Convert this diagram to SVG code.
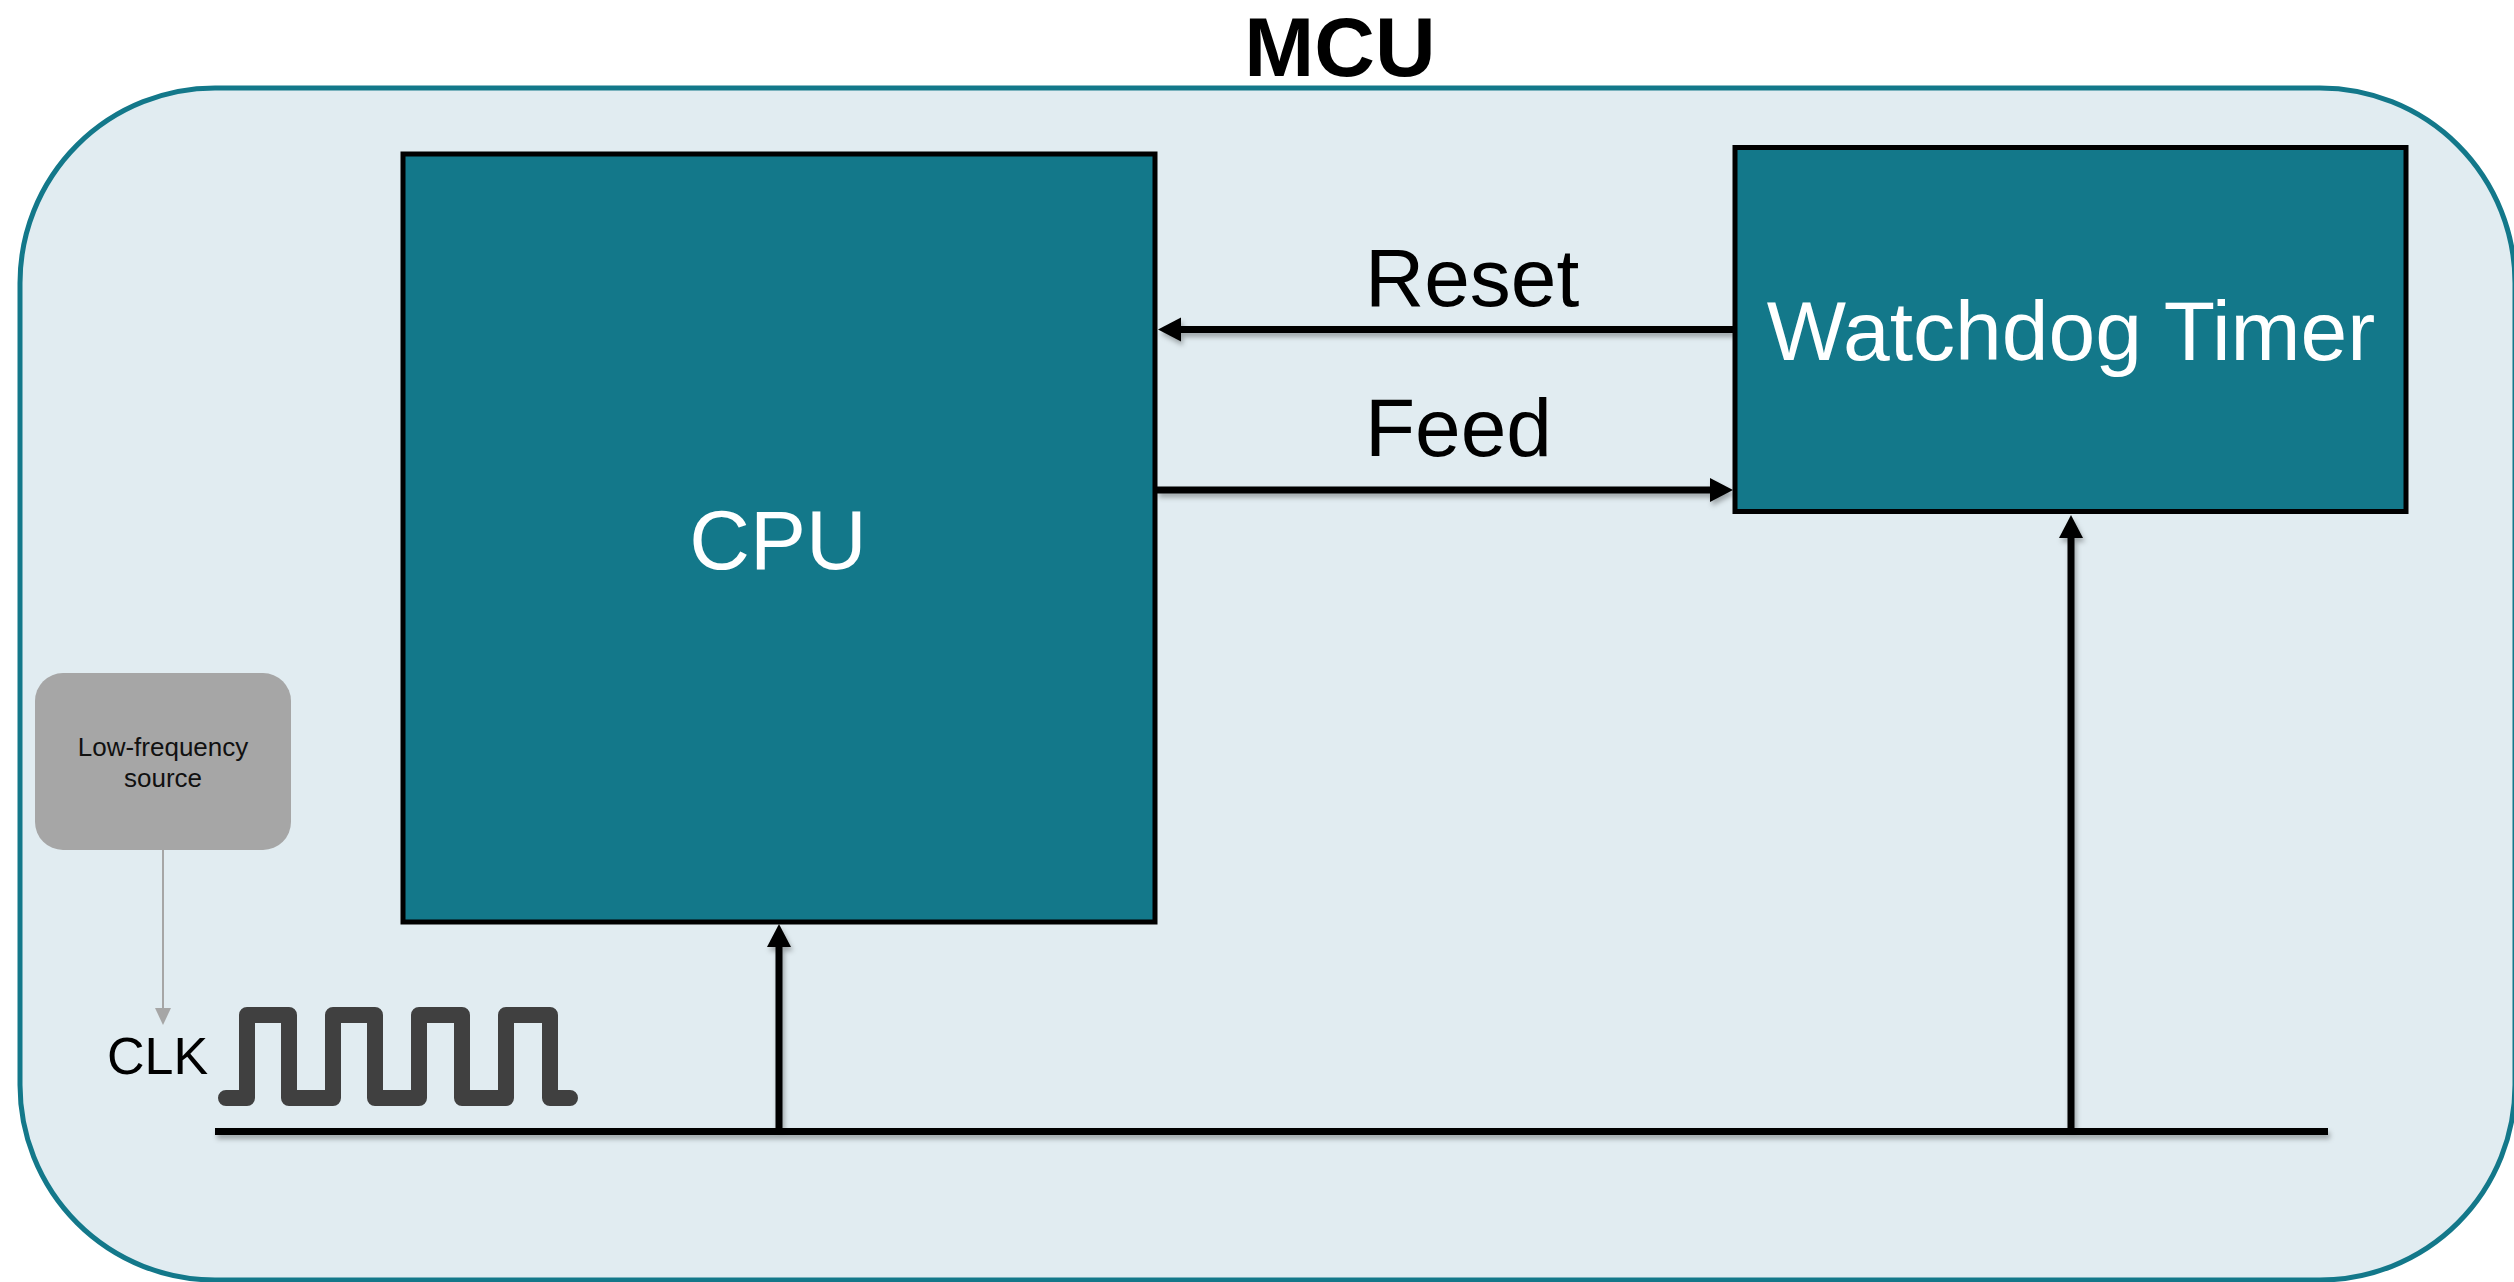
<svg xmlns="http://www.w3.org/2000/svg" width="2514" height="1282" viewBox="0 0 2514 1282">
  <style>
    .block { fill: #13788a; stroke: #000; stroke-width: 5; }
    .blockText { font-family: "Liberation Sans", Arial, sans-serif; font-size: 84px; fill: #ffffff; text-anchor: middle; }
    .label { font-family: "Liberation Sans", Arial, sans-serif; font-size: 82px; fill: #000; }
    .wire { stroke: #000; stroke-width: 7; fill: none; filter: url(#shadow); }
    .small { font-family: "Liberation Sans", Arial, sans-serif; font-size: 26px; fill: #111; text-anchor: middle; }
  </style>
  <defs>
    <filter id="shadow" filterUnits="userSpaceOnUse" x="0" y="0" width="2514" height="1282">
      <feDropShadow dx="2" dy="4" stdDeviation="2.5" flood-color="#000" flood-opacity="0.3"/>
    </filter>
    <marker id="head" markerUnits="userSpaceOnUse" markerWidth="30" markerHeight="30" refX="0" refY="0" orient="auto" overflow="visible">
      <path d="M-1,-12 L22,0 L-1,12 z" fill="#000"/>
    </marker>
    <marker id="grayHead" markerUnits="userSpaceOnUse" markerWidth="20" markerHeight="20" refX="0" refY="0" orient="auto" overflow="visible">
      <path d="M-1,-8 L16,0 L-1,8 z" fill="#a6a6a6"/>
    </marker>
  </defs>

  <g id="mcu">
    <rect x="20" y="88" width="2495" height="1192" rx="195" ry="195" fill="#e1ecf1" stroke="#13788a" stroke-width="5"/>
    <text x="1340" y="76" font-family="Liberation Sans, Arial, sans-serif" font-weight="bold" font-size="84" text-anchor="middle" fill="#000">MCU</text>
  </g>

  <g id="cpu">
    <rect class="block" x="403" y="154" width="752" height="768"/>
    <text class="blockText" x="778" y="569">CPU</text>
  </g>

  <g id="watchdog">
    <rect class="block" x="1735" y="147.5" width="671" height="364"/>
    <text class="blockText" x="2071" y="360">Watchdog Timer</text>
  </g>

  <g id="lfsource">
    <rect x="35" y="673" width="256" height="177" rx="28" ry="28" fill="#a6a6a6"/>
    <text class="small" x="163" y="756">Low-frequency</text>
    <text class="small" x="163" y="787">source</text>
  </g>

  <g id="clk">
    <text x="107" y="1074" font-family="Liberation Sans, Arial, sans-serif" font-size="52" fill="#000">CLK</text>
    <path d="M226,1098 H247 V1015 H289 V1098 H333 V1015 H375 V1098 H419 V1015 H462 V1098 H506 V1015 H550 V1098 H570" fill="none" stroke="#404040" stroke-width="16" stroke-linecap="round" stroke-linejoin="round"/>
  </g>

  <g id="connectors">
    <line x1="163" y1="850" x2="163" y2="1009" stroke="#a6a6a6" stroke-width="2" marker-end="url(#grayHead)"/>
    <line class="wire" x1="215" y1="1131.5" x2="2328" y2="1131.5" stroke-width="8"/>
    <line class="wire" x1="779" y1="1128" x2="779" y2="946" stroke-width="6" marker-end="url(#head)"/>
    <line class="wire" x1="2071" y1="1128" x2="2071" y2="537" stroke-width="6" marker-end="url(#head)"/>
    <line class="wire" x1="1733" y1="329.5" x2="1180" y2="329.5" marker-end="url(#head)"/>
    <line class="wire" x1="1157" y1="490" x2="1711" y2="490" marker-end="url(#head)"/>
    <text class="label" x="1365" y="306">Reset</text>
    <text class="label" x="1365" y="456">Feed</text>
  </g>
</svg>
